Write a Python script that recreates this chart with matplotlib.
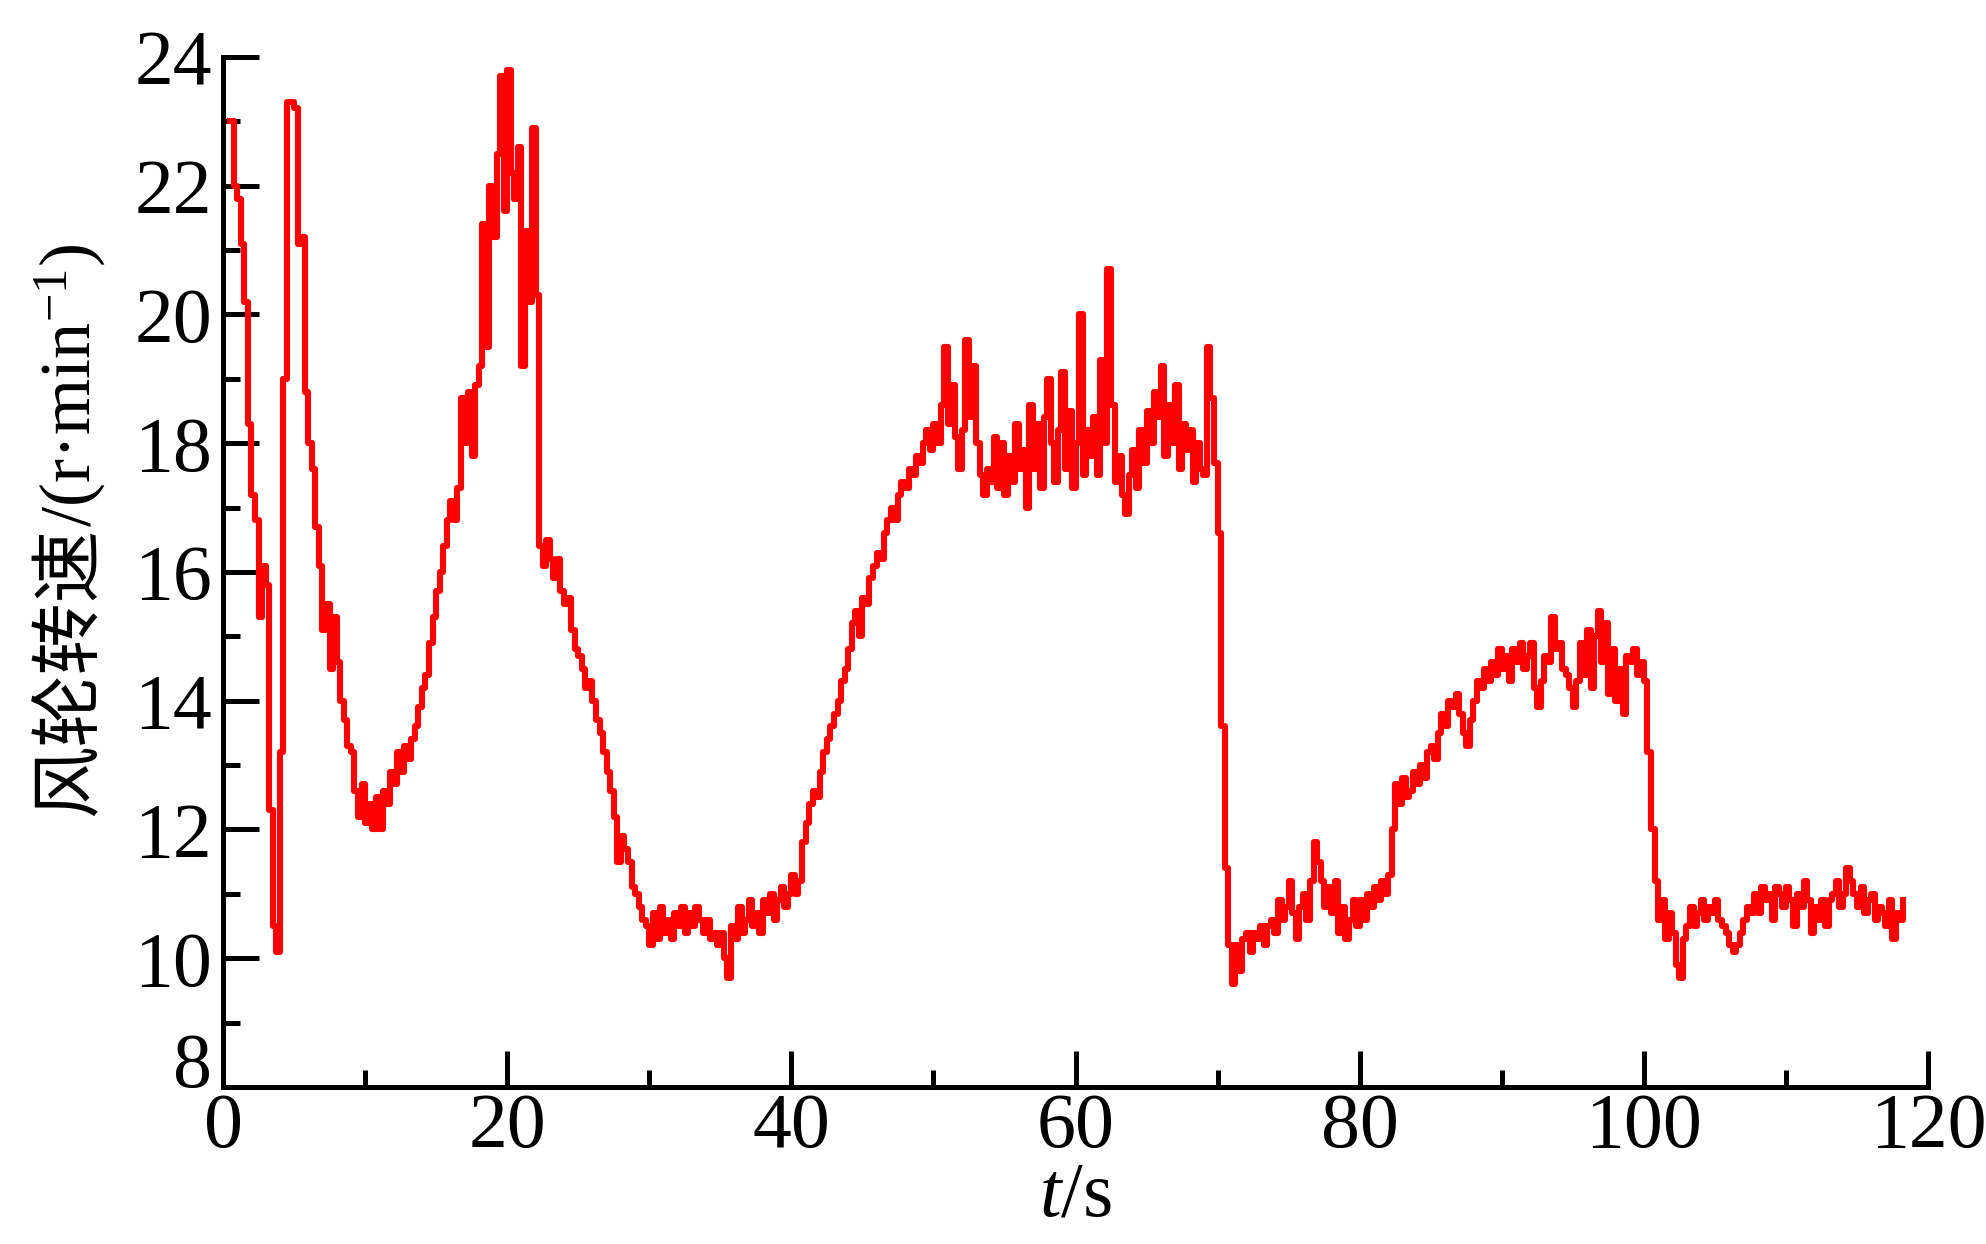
import numpy as np
import matplotlib
matplotlib.use('Agg')
import matplotlib.pyplot as plt
from matplotlib.ticker import MultipleLocator, FuncFormatter
from matplotlib.transforms import offset_copy

plt.rcParams['font.family'] = ['Liberation Serif', 'Noto Sans CJK SC', 'DejaVu Sans']
plt.rcParams['mathtext.fontset'] = 'custom'
plt.rcParams['mathtext.rm'] = 'Liberation Serif'
plt.rcParams['mathtext.it'] = 'Liberation Serif:italic'

# rotor speed, one value every 0.25 s starting at t = 0.5 s
speed = [
    23.0, 22.0, 21.8, 21.1, 20.2, 18.3, 17.2, 16.8, 15.3, 16.1, 15.8, 12.3,
    10.5, 10.1, 13.2, 19.0, 23.3, 23.3, 23.2, 21.1, 21.2, 18.8, 18.0, 17.6,
    16.7, 16.1, 15.1, 15.5, 14.5, 15.3, 14.6, 14.0, 13.7, 13.3, 13.2, 12.6,
    12.2, 12.7, 12.1, 12.4, 12.0, 12.5, 12.0, 12.6, 12.4, 12.9, 12.7, 13.2,
    12.9, 13.3, 13.1, 13.4, 13.6, 13.9, 14.2, 14.4, 14.9, 15.3, 15.7, 16.0,
    16.4, 16.8, 17.1, 16.8, 17.3, 18.7, 18.0, 18.8, 17.8, 18.9, 19.2, 21.4,
    19.5, 22.0, 21.2, 22.5, 23.7, 21.6, 23.8, 22.2, 21.8, 22.6, 19.2, 21.3,
    20.2, 22.9, 20.3, 16.4, 16.1, 16.5, 16.2, 15.9, 16.2, 15.7, 15.5, 15.6,
    15.1, 14.8, 14.7, 14.5, 14.2, 14.3, 14.0, 13.7, 13.5, 13.2, 12.9, 12.6,
    12.2, 11.5, 11.9, 11.7, 11.5, 11.1, 11.0, 10.8, 10.6, 10.5, 10.2, 10.7,
    10.3, 10.8, 10.4, 10.6, 10.3, 10.7, 10.5, 10.8, 10.4, 10.7, 10.5, 10.8,
    10.6, 10.4, 10.6, 10.3, 10.4, 10.2, 10.4, 10.0, 9.7, 10.5, 10.3, 10.8,
    10.4, 10.6, 10.9, 10.5, 10.7, 10.4, 10.9, 10.7, 11.0, 10.6, 10.9, 11.1,
    10.8, 11.0, 11.3, 11.0, 11.2, 11.8, 12.1, 12.4, 12.6, 12.5, 12.9, 13.2,
    13.4, 13.6, 13.8, 14.0, 14.3, 14.5, 14.8, 15.2, 15.4, 15.0, 15.6, 15.5,
    15.9, 16.1, 16.3, 16.2, 16.6, 16.8, 17.0, 16.8, 17.2, 17.4, 17.3, 17.6,
    17.5, 17.8, 17.7, 18.0, 18.2, 17.9, 18.3, 18.0, 18.6, 19.5, 18.3, 18.9,
    18.1, 17.6, 18.2, 19.6, 18.4, 19.2, 18.0, 17.5, 17.2, 17.6, 17.4, 18.1,
    17.3, 18.0, 17.2, 17.8, 17.4, 18.3, 17.6, 17.9, 17.0, 18.6, 17.6, 18.3,
    17.3, 18.4, 19.0, 18.0, 17.4, 18.2, 19.1, 17.6, 18.5, 17.3, 18.0, 20.0,
    17.5, 18.2, 17.8, 18.4, 17.5, 19.3, 18.0, 20.7, 18.6, 17.4, 17.8, 17.2,
    16.9, 17.5, 17.9, 17.3, 18.2, 17.7, 18.5, 18.0, 18.8, 18.4, 19.2, 17.8,
    18.6, 18.0, 18.9, 17.6, 18.3, 17.9, 18.2, 17.4, 18.0, 17.6, 17.5, 19.5,
    18.7, 17.7, 16.6, 13.6, 11.4, 10.2, 9.6, 10.2, 9.8, 10.3, 10.4, 10.1,
    10.4, 10.3, 10.5, 10.2, 10.5, 10.6, 10.4, 10.9, 10.6, 10.8, 11.2, 10.7,
    10.3, 10.8, 11.0, 10.6, 11.2, 11.8, 11.5, 11.2, 10.8, 11.1, 10.7, 11.2,
    10.4, 10.8, 10.3, 10.6, 10.9, 10.5, 10.9, 10.6, 11.0, 10.8, 11.1, 10.9,
    11.2, 11.0, 11.3, 12.0, 12.7, 12.4, 12.8, 12.5, 12.6, 12.9, 12.7, 13.0,
    12.8, 13.2, 13.3, 13.1, 13.5, 13.8, 13.6, 14.0, 13.9, 14.1, 13.8, 13.5,
    13.3, 13.7, 14.0, 14.3, 14.2, 14.5, 14.3, 14.6, 14.4, 14.8, 14.5, 14.7,
    14.3, 14.8, 14.6, 14.9, 14.5, 14.7, 14.9, 14.2, 13.9, 14.3, 14.7, 14.6,
    15.3, 14.8, 14.9, 14.5, 14.4, 14.2, 13.9, 14.3, 14.9, 14.4, 15.1, 14.2,
    15.0, 15.4, 14.6, 15.2, 14.1, 14.8, 14.0, 14.5, 13.8, 14.7, 14.6, 14.8,
    14.4, 14.6, 14.3, 13.2, 12.0, 11.2, 10.6, 10.9, 10.3, 10.7, 10.4, 9.9,
    9.7, 10.3, 10.5, 10.8, 10.5, 10.7, 10.9, 10.6, 10.8, 10.7, 10.9, 10.6,
    10.5, 10.4, 10.2, 10.1, 10.2, 10.4, 10.6, 10.8, 10.7, 11.0, 10.7, 11.1,
    10.9, 11.0, 10.6, 11.1, 11.0, 10.8, 11.1, 10.9, 10.5, 11.0, 10.8, 11.2,
    10.9, 10.4, 10.8, 10.6, 10.9, 10.5, 10.9, 11.0, 11.2, 10.8, 11.0, 11.4,
    11.2, 11.0, 10.8, 11.1, 10.7, 10.9, 11.0, 10.6, 10.8, 10.7, 10.5, 10.9,
    10.3, 10.7, 10.6, 10.9,
]
t = 0.5 + 0.25 * np.arange(len(speed))

fig = plt.figure(figsize=(19.86, 12.44), dpi=100)
ax = fig.add_axes([0.1123, 0.1262, 0.8585, 0.828])

ax.plot(t, speed, color='#ff0000', lw=4.4, drawstyle='steps-post')

ax.set_xlim(0, 120)
ax.set_ylim(8, 24)
ax.xaxis.set_major_locator(MultipleLocator(20))
ax.xaxis.set_minor_locator(MultipleLocator(10))
ax.yaxis.set_major_locator(MultipleLocator(2))
ax.yaxis.set_minor_locator(MultipleLocator(1))
# the 8 is drawn separately, sitting on the x axis
ax.yaxis.set_major_formatter(FuncFormatter(lambda v, pos: '' if v < 9 else f'{v:g}'))

for side in ['top', 'right']:
    ax.spines[side].set_visible(False)
for side in ['left', 'bottom']:
    ax.spines[side].set_linewidth(3.6)

ax.tick_params(which='major', direction='in', length=26, width=3.6, labelsize=56)
ax.tick_params(which='minor', direction='in', length=12, width=3.6)
ax.tick_params(axis='x', which='major', pad=4)
ax.tick_params(axis='y', which='major', pad=8)

ax.text(0, 8, '8', fontsize=56, ha='right', va='baseline',
        transform=offset_copy(ax.get_yaxis_transform(), fig=fig, x=-8, units='points'))

ax.set_xlabel('$t$/s', fontsize=56)
ax.xaxis.set_label_coords(0.5, -0.107)
ax.xaxis.label.set_va('center')

# y label: Chinese part and unit part as two texts sharing one baseline
fig.canvas.draw()
renderer = fig.canvas.get_renderer()
label_x = 90 / 1986
label_cy = 1 - 530 / 1244
cn = fig.text(label_x, 0, '风轮转速', rotation=90, rotation_mode='anchor',
              ha='left', va='baseline', fontsize=52, family=['Noto Sans CJK SC'])
unit = fig.text(label_x, 0, '/(r·min$^{-1}$)', rotation=90, rotation_mode='anchor',
                ha='left', va='baseline', fontsize=52)
h_cn = cn.get_window_extent(renderer).height / fig.bbox.height
h_unit = unit.get_window_extent(renderer).height / fig.bbox.height
y0 = label_cy - (h_cn + h_unit) / 2
cn.set_y(y0)
unit.set_y(y0 + h_cn)

fig.savefig('out.png', dpi=100, facecolor='white')
